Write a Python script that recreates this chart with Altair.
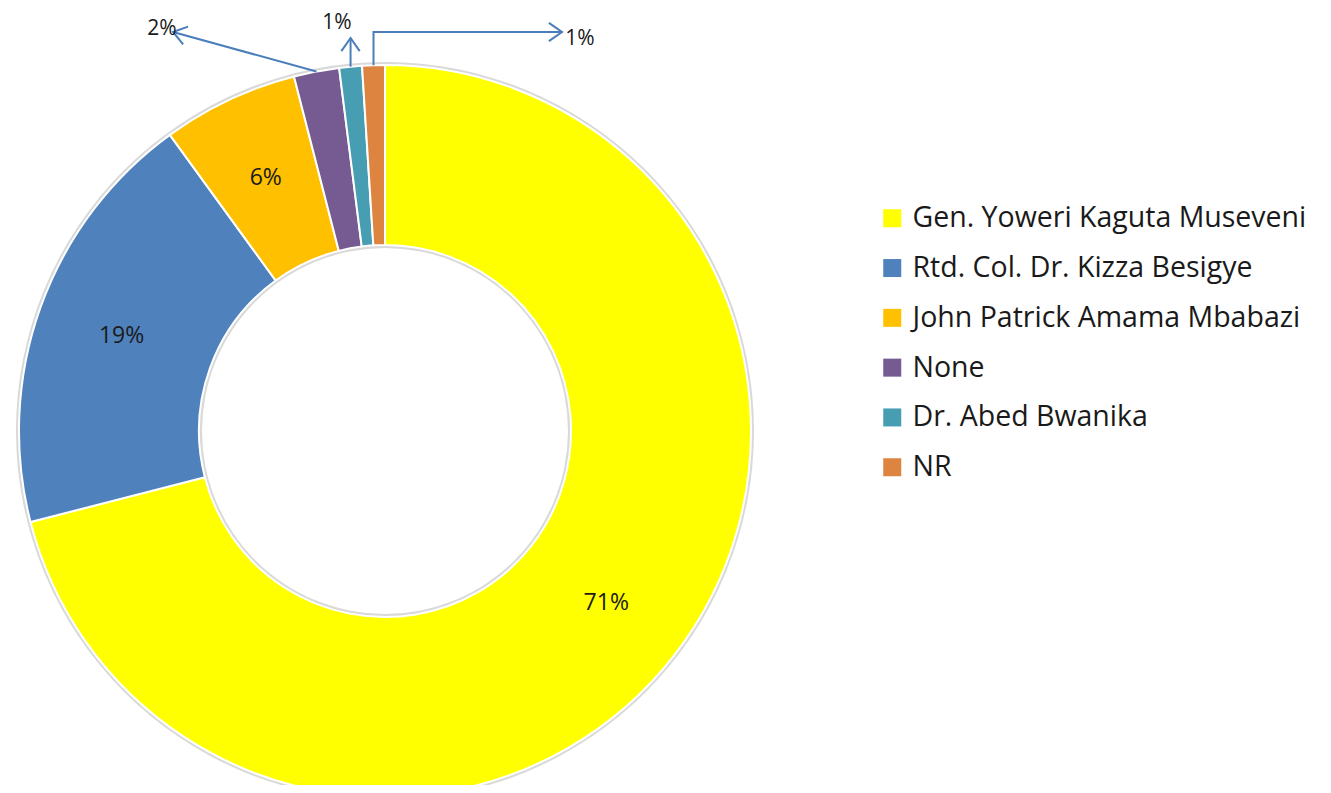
import math
import altair as alt
import pandas as pd

# ---- data ----
candidates = [
    "Gen. Yoweri Kaguta Museveni",
    "Rtd. Col. Dr. Kizza Besigye",
    "John Patrick Amama Mbabazi",
    "None",
    "Dr. Abed Bwanika",
    "NR",
]
shares = [71, 19, 6, 2, 1, 1]
pct_labels = ["71%", "19%", "6%", "2%", "1%", "1%"]
inside = [True, True, True, False, False, False]
colors = ["#FFFF00", "#4F81BD", "#FFC000", "#755B92", "#479EB3", "#DD8440"]

# ---- layout (chart coords = page coords - 8) ----
W, H = 1315, 777
CX, CY = 377, 423
R_OUT, R_IN = 366, 186
R_LABEL = 280
FONT = "Open Sans"
LINE_COLOR = "#4A7EBB"

df = pd.DataFrame({
    "candidate": candidates,
    "share": shares,
    "idx": list(range(len(candidates))),
    "inner_label": [l if i else "" for l, i in zip(pct_labels, inside)],
})

# leader lines: start from slice mid-angle on outer edge, routed to outer labels
total = sum(shares)
cum = 0
mids = []
for s in shares:
    mids.append((cum + s / 2) / total * 2 * math.pi)
    cum += s

def edge_point(i):
    a = mids[i]
    return (CX + R_OUT * math.sin(a), CY - R_OUT * math.cos(a))

routes = {
    3: [(165, 24)],
    4: [(None, 30)],
    5: [(None, 24), (554, 24)],
}
label_pos = {3: (154, 21), 4: (329, 15), 5: (572, 31)}

rows = []
seg = 0
for i, pts in routes.items():
    sx, sy = edge_point(i)
    path = [(sx, sy)] + [((sx if x is None else x), y) for x, y in pts]
    for k, (x, y) in enumerate(path):
        rows.append({"seg": f"l{seg}", "k": k, "x": x, "y": y})
    seg += 1
    (x0, y0), (x1, y1) = path[-2], path[-1]
    d = math.hypot(x1 - x0, y1 - y0)
    ux, uy = (x0 - x1) / d, (y0 - y1) / d
    L, ang = 16, math.radians(35)
    arms = []
    for sgn in (1, -1):
        c, s_ = math.cos(sgn * ang), math.sin(sgn * ang)
        arms.append((x1 + L * (ux * c - uy * s_), y1 + L * (ux * s_ + uy * c)))
    for k, (x, y) in enumerate([arms[0], (x1, y1), arms[1]]):
        rows.append({"seg": f"a{seg}", "k": k, "x": x, "y": y})
    seg += 1
lines_df = pd.DataFrame(rows)

outer_df = pd.DataFrame({
    "x": [label_pos[i][0] for i in routes],
    "y": [label_pos[i][1] for i in routes],
    "t": [pct_labels[i] for i in routes],
})

xs = alt.Scale(domain=[0, W], range=[0, W])
ys = alt.Scale(domain=[0, H], range=[0, H])

color = alt.Color(
    "candidate:N",
    scale=alt.Scale(domain=candidates, range=colors),
    sort=candidates,
    legend=alt.Legend(
        title=None,
        orient="none",
        legendX=870,
        legendY=196,
        symbolType="square",
        symbolSize=324,
        symbolStrokeWidth=0,
        labelFontSize=28.5,
        labelFont=FONT,
        labelColor="#1a1a1a",
        labelOffset=6,
        rowPadding=20.8,
        labelLimit=600,
    ),
)

shadow = alt.Chart(pd.DataFrame({"v": [1]})).mark_arc(
    outerRadius=R_OUT + 3, innerRadius=R_IN - 3, color="#d9d9d9"
).encode(theta=alt.Theta("v:Q"), x=alt.value(CX), y=alt.value(CY))

base = alt.Chart(df)

arcs = base.mark_arc(
    outerRadius=R_OUT, innerRadius=R_IN, stroke="white", strokeWidth=2
).encode(
    theta=alt.Theta("share:Q", stack=True),
    order=alt.Order("idx:Q"),
    color=color,
    x=alt.value(CX),
    y=alt.value(CY),
)

inner_text = base.mark_text(
    radius=R_LABEL, font=FONT, fontSize=23, color="#1a1a1a"
).encode(
    theta=alt.Theta("share:Q", stack=True),
    order=alt.Order("idx:Q"),
    text="inner_label:N",
    x=alt.value(CX),
    y=alt.value(CY),
)

leaders = alt.Chart(lines_df).mark_line(
    color=LINE_COLOR, strokeWidth=2
).encode(
    x=alt.X("x:Q", scale=xs, axis=None),
    y=alt.Y("y:Q", scale=ys, axis=None),
    detail="seg:N",
    order="k:Q",
)

outer_text = alt.Chart(outer_df).mark_text(
    font=FONT, fontSize=21, color="#1a1a1a", align="center", baseline="middle"
).encode(
    x=alt.X("x:Q", scale=xs, axis=None),
    y=alt.Y("y:Q", scale=ys, axis=None),
    text="t:N",
)

chart = alt.layer(shadow, arcs, inner_text, leaders, outer_text).resolve_scale(
    theta="independent"
).properties(
    width=W, height=H, autosize=alt.AutoSizeParams(type="none"), padding=0
).configure(background="white").configure_view(stroke=None, strokeWidth=0)

chart.save("out.html", embed_options={"renderer": "svg", "actions": False})
